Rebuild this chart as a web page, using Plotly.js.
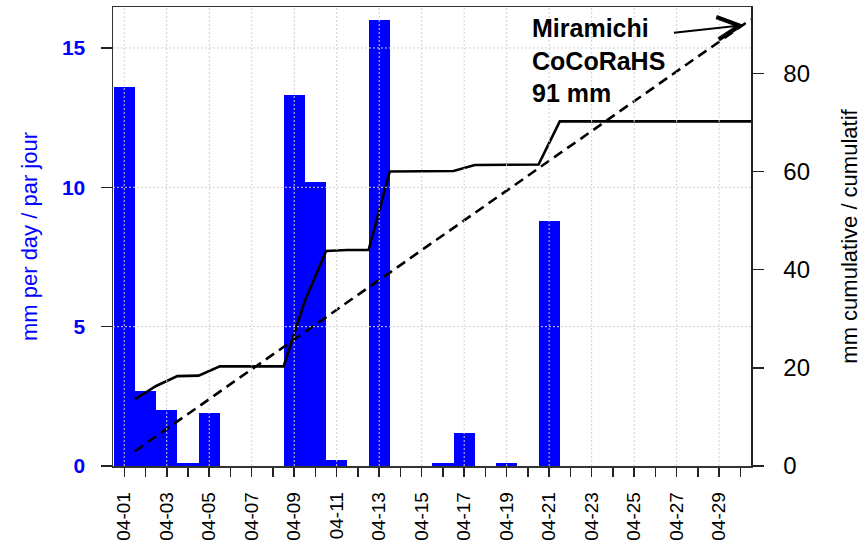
<!DOCTYPE html>
<html>
<head>
<meta charset="utf-8">
<script src="https://cdn.plot.ly/plotly-3.0.1.min.js"></script>
<style>
  html, body { margin: 0; padding: 0; background: #ffffff; }
  #chart { width: 864px; height: 540px; }
</style>
</head>
<body>
<div id="chart"></div>
<script>
// ---- data ----
const dates = ['04-01','04-02','04-03','04-04','04-05','04-06','04-07','04-08','04-09','04-10',
               '04-11','04-12','04-13','04-14','04-15','04-16','04-17','04-18','04-19','04-20',
               '04-21','04-22','04-23','04-24','04-25','04-26','04-27','04-28','04-29','04-30'];
const dailyPrecip = [13.6, 2.7, 2.0, 0.1, 1.9, 0, 0, 0, 13.3, 10.2,
                     0.2, 0, 16.0, 0, 0, 0.1, 1.2, 0, 0.1, 0,
                     8.8, 0, 0, 0, 0, 0, 0, 0, 0, 0];
const cumulativePrecip = [13.6, 16.3, 18.3, 18.4, 20.3, 20.3, 20.3, 20.3, 33.6, 43.8,
                          44.0, 44.0, 60.0, 60.0, 60.0, 60.1, 61.3, 61.3, 61.4, 61.4,
                          70.2, 70.2, 70.2, 70.2, 70.2, 70.2, 70.2, 70.2, 70.2, 70.2];
const normalCumulative = [3.0, 6.1, 9.1, 12.1, 15.2, 18.2, 21.2, 24.3, 27.3, 30.3,
                          33.4, 36.4, 39.4, 42.5, 45.5, 48.5, 51.6, 54.6, 57.6, 60.7,
                          63.7, 66.7, 69.8, 72.8, 75.8, 78.9, 81.9, 84.9, 88.0, 91.0];
const leftTicks = [0, 5, 10, 15];
const rightTicks = [0, 20, 40, 60, 80];
const gridDaily = [5, 10, 15];
const annotationText = 'Miramichi<br>CoCoRaHS<br>91 mm';
const leftTitle = 'mm per day / par jour';
const rightTitle = 'mm cumulative / cumulatif';

// ---- derived positions ----
const dayPos = dates.map((d, i) => i + 1);          // bars centred on the day
const endOfDayPos = dates.map((d, i) => i + 1.5);   // cumulative at end of day
const tickText = dates.map((d, i) => (i % 2 === 0 ? d : ''));
const gridDays = dayPos.filter((p, i) => i % 2 === 0);

const FONT = 'Liberation Sans, Arial, Helvetica, sans-serif';

const traces = [
  {
    type: 'bar',
    x: dayPos,
    y: dailyPrecip,
    width: 1,
    marker: { color: '#0000ff', line: { width: 0 } },
    yaxis: 'y',
    hoverinfo: 'skip',
    showlegend: false
  },
  {
    type: 'scatter',
    mode: 'lines',
    x: endOfDayPos,
    y: normalCumulative,
    yaxis: 'y2',
    line: { color: '#000000', width: 2.6, dash: '10px,6px' },
    hoverinfo: 'skip',
    showlegend: false
  },
  {
    type: 'scatter',
    mode: 'lines',
    x: endOfDayPos,
    y: cumulativePrecip,
    yaxis: 'y2',
    line: { color: '#000000', width: 2.6 },
    hoverinfo: 'skip',
    showlegend: false
  }
];

const shapes = [];
gridDays.forEach(g => shapes.push({
  type: 'line', xref: 'x', yref: 'paper', x0: g, x1: g, y0: 0, y1: 1,
  line: { color: '#d0d0d0', width: 1, dash: '2px,2px' }, layer: 'above'
}));
gridDaily.forEach(g => shapes.push({
  type: 'line', xref: 'paper', yref: 'y', x0: 0, x1: 1, y0: g, y1: g,
  line: { color: '#d0d0d0', width: 1, dash: '2px,2px' }, layer: 'above'
}));

const layout = {
  width: 864,
  height: 540,
  paper_bgcolor: '#ffffff',
  plot_bgcolor: '#ffffff',
  margin: { l: 113, r: 113, t: 7, b: 74, pad: 0 },
  bargap: 0,
  font: { family: FONT, color: '#000000' },
  xaxis: {
    range: [0.47, 30.5],
    tickmode: 'array',
    tickvals: dayPos,
    ticktext: tickText,
    tickangle: -90,
    ticks: 'outside',
    ticklen: 9,
    tickwidth: 1.5,
    tickcolor: '#222222',
    ticklabelstandoff: 8,
    tickfont: { family: FONT, size: 19, color: '#000000' },
    showgrid: false,
    zeroline: false,
    showline: true,
    mirror: true,
    linecolor: '#333333',
    linewidth: 1.5
  },
  yaxis: {
    range: [0, 16.47],
    tickmode: 'array',
    tickvals: leftTicks,
    ticks: 'outside',
    ticklen: 11,
    tickwidth: 1.5,
    tickcolor: '#222222',
    ticklabelstandoff: 11,
    tickfont: { family: FONT, size: 21, color: '#0000ff', weight: 'bold' },
    showgrid: false,
    zeroline: false,
    showline: true,
    linecolor: '#333333',
    linewidth: 1.5,
    title: { text: leftTitle, font: { family: FONT, size: 22, color: '#0000ff' }, standoff: 18 }
  },
  yaxis2: {
    overlaying: 'y',
    side: 'right',
    range: [0, 93.5],
    tickmode: 'array',
    tickvals: rightTicks,
    ticks: 'outside',
    ticklen: 11,
    tickwidth: 1.5,
    tickcolor: '#222222',
    ticklabelstandoff: 15,
    tickfont: { family: FONT, size: 24, color: '#000000' },
    showgrid: false,
    zeroline: false,
    showline: true,
    linecolor: '#222222',
    linewidth: 1.5,
    title: { text: rightTitle, font: { family: FONT, size: 22, color: '#000000' }, standoff: 32 }
  },
  shapes: shapes,
  annotations: [
    {
      text: annotationText,
      xref: 'x', yref: 'paper',
      x: 20.1, y: 0.99,
      xanchor: 'left', yanchor: 'top',
      align: 'left',
      showarrow: false,
      font: { family: FONT, size: 25, color: '#000000', weight: 'bold' }
    },
    {
      text: '',
      xref: 'x', yref: 'y2',
      x: 30.2, y: 89.8,
      axref: 'x', ayref: 'y2',
      ax: 26.8, ay: 88.2,
      showarrow: true,
      arrowhead: 5,
      arrowsize: 2.2,
      arrowwidth: 2,
      arrowcolor: '#000000'
    }
  ]
};

Plotly.newPlot('chart', traces, layout, { staticPlot: true, displayModeBar: false });
</script>
</body>
</html>
